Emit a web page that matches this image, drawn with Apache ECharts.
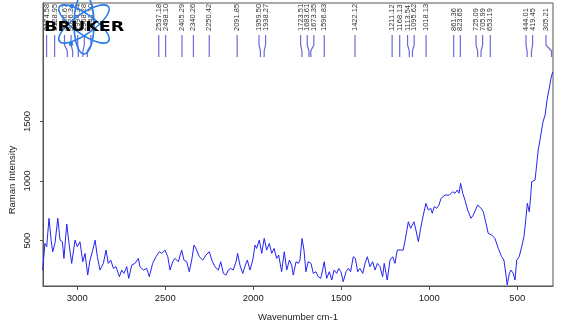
<!DOCTYPE html>
<html><head><meta charset="utf-8">
<script src="https://cdn.jsdelivr.net/npm/echarts@6/dist/echarts.min.js"></script>
<style>html,body{margin:0;padding:0;background:#fff}#c{width:581px;height:329px}</style>
</head><body><div id="c"></div>
<script>
const wavenumber = [3197,3184,3174,3161,3149,3140,3127,3111,3098,3085,3076,3060,3045,3032,3013,3000,2985,2969,2956,2941,2928,2912,2899,2886,2871,2852,2837,2824,2810,2795,2780,2761,2748,2735,2719,2708,2691,2672,2653,2644,2625,2606,2591,2572,2553,2534,2519,2502,2486,2473,2458,2445,2426,2407,2394,2378,2364,2350,2337,2322,2307,2287,2269,2250,2236,2218,2199,2185,2170,2155,2142,2128,2114,2098,2089,2076,2060,2045,2034,2019,2003,1990,1981,1966,1952,1938,1924,1909,1895,1882,1867,1856,1839,1824,1810,1795,1782,1773,1757,1744,1735,1723,1712,1701,1688,1672,1659,1644,1631,1617,1606,1597,1583,1568,1554,1541,1526,1515,1502,1489,1473,1460,1447,1432,1420,1407,1394,1378,1365,1352,1337,1322,1308,1295,1280,1265,1256,1239,1223,1208,1195,1182,1166,1148,1132,1119,1106,1087,1076,1062,1049,1034,1019,1006,992,983,972,958,945,933,911,886,867,854,841,831,822,810,797,782,763,750,725,706,693,678,665,645,627,608,589,576,564,557,545,536,523,513,503,489,475,462,450,443,432,424,418,409,399,390,381,371,354,342,331,320,308,299];
const intensity = [252,476,448,687,504,406,476,687,504,490,350,639,448,308,504,448,490,322,392,210,336,420,504,364,252,308,420,308,336,266,280,196,252,224,280,182,294,308,350,280,252,266,196,308,364,406,392,420,364,252,322,350,322,420,336,322,238,336,462,420,364,336,378,406,336,280,252,322,224,210,252,266,252,322,392,294,224,294,336,252,336,462,434,504,392,518,420,476,392,434,350,378,238,406,252,336,294,210,322,308,336,518,420,238,322,308,224,238,196,182,252,322,182,238,168,252,224,266,238,154,238,266,238,364,350,238,266,224,308,364,280,322,252,308,280,196,308,168,336,364,308,420,420,420,546,658,603,658,588,490,603,714,813,756,771,729,784,771,798,855,882,882,910,897,924,897,981,897,840,756,687,714,798,771,742,645,560,546,518,434,364,336,210,126,224,252,224,168,336,364,448,532,700,813,742,868,994,981,1008,1134,1260,1345,1496,1555,1681,1765,1866,1916];
const peaks = [3174.58,3128.95,3056.67,3026.34,2994.34,2968.28,2943.10,2537.18,2498.10,2405.29,2340.26,2250.42,2091.85,1959.50,1938.27,1723.51,1683.61,1673.35,1596.83,1422.12,1211.12,1168.13,1113.54,1095.62,1018.13,861.36,823.65,725.09,705.99,653.19,444.01,419.45,305.21];
const xTicks = [3000,2500,2000,1500,1000,500];
const yTicks = [500,1000,1500];
const xTitle = 'Wavenumber cm-1';
const yTitle = 'Raman Intensity';
const brand = 'BRUKER';

const chart = echarts.init(document.getElementById('c'), null, {renderer:'canvas'});
const F = 'Liberation Sans, Arial, sans-serif';
chart.setOption({
  animation:false,
  grid:{left:43,right:28,top:3,bottom:43,show:true,borderColor:'#555',borderWidth:1,backgroundColor:'transparent'},
  xAxis:{type:'value',inverse:true,min:297,max:3195,
    name:xTitle,nameLocation:'middle',nameGap:26,nameTextStyle:{fontFamily:F,fontSize:9.5,color:'#222'},
    axisLine:{show:true,onZero:false,lineStyle:{color:'#555'}},
    axisTick:{show:true,length:4,lineStyle:{color:'#555'},customValues:xTicks},
    axisLabel:{fontFamily:F,fontSize:9.5,color:'#222',margin:7,customValues:xTicks,formatter:v=>String(v),hideOverlap:false},
    splitLine:{show:false}},
  yAxis:{type:'value',min:118,max:2496,
    axisLine:{show:true,onZero:false,lineStyle:{color:'#555'}},
    axisTick:{show:true,length:3,lineStyle:{color:'#555'},customValues:yTicks},
    axisLabel:{fontFamily:F,fontSize:9.5,color:'#222',rotate:90,margin:11,customValues:yTicks,formatter:v=>String(v)},
    splitLine:{show:false}},
  series:[{type:'line',data:wavenumber.map((w,i)=>[w,intensity[i]]),showSymbol:false,
    lineStyle:{color:'#2424f2',width:1},silent:true}]
});

// peak markers with label spreading
const items = peaks.map(w=>({w, x: chart.convertToPixel({xAxisIndex:0}, w)})).sort((a,b)=>a.x-b.x);
const gap = 6.6;
let clusters = items.map(it=>({m:[it], c:it.x}));
let changed = true;
while(changed){
  changed=false;
  for(let i=0;i<clusters.length-1;i++){
    const a=clusters[i], b=clusters[i+1];
    const aR=a.c+(a.m.length-1)*gap/2, bL=b.c-(b.m.length-1)*gap/2;
    if(bL-aR<gap){
      const m=a.m.concat(b.m);
      const c=m.reduce((s,t)=>s+t.x,0)/m.length;
      clusters.splice(i,2,{m,c});changed=true;break;
    }
  }
}
const gl=46, gr=546;
const els=[];
clusters.forEach(cl=>{
  const n=cl.m.length;
  let start=cl.c-(n-1)*gap/2;
  if(start<gl) start=gl;
  if(start+(n-1)*gap>gr) start=gr-(n-1)*gap;
  cl.m.forEach((it,k)=>{
    const lx=start+k*gap;
    const px=Math.min(it.x,552);
    els.push({type:'polyline',shape:{points:[[lx,35],[lx,45],[px,51],[px,57]]},style:{stroke:'#6a6ad8',lineWidth:1.2,fill:null},z:10,silent:true});
    els.push({type:'text',x:lx,y:31,rotation:Math.PI/2,style:{text:it.w.toFixed(2),fontFamily:F,fontSize:7.5,fill:'#333',align:'left',verticalAlign:'middle'},z:10,silent:true});
  });
});
// logo
const blue='#2a7ce6';
const cx=84, cy=24;
[[-35],[35],[90]].forEach(([r])=>{
  els.push({type:'ellipse',x:cx,y:cy,rotation:r*Math.PI/180,shape:{cx:0,cy:0,rx:30,ry:10},style:{stroke:blue,lineWidth:1.6,fill:null},z:20,silent:true});
});
els.push({type:'circle',shape:{cx:72,cy:6,r:2.2},style:{fill:blue},z:21,silent:true});
els.push({type:'circle',shape:{cx:71,cy:44,r:2.2},style:{fill:blue},z:21,silent:true});
els.push({type:'text',x:44,y:27,scaleX:1.3,style:{text:brand,fontFamily:'DejaVu Sans, sans-serif',fontWeight:'bold',fontSize:13.5,fill:'#000',align:'left',verticalAlign:'middle'},z:22,silent:true});
els.push({type:'text',x:12,y:180,rotation:Math.PI/2,style:{text:yTitle,fontFamily:F,fontSize:9.5,fill:'#222',align:'center',verticalAlign:'middle'},silent:true});
chart.setOption({graphic:els});
</script></body></html>
